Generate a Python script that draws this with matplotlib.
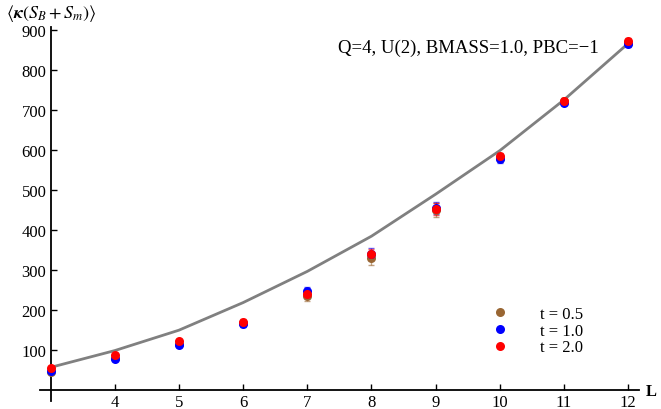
import numpy as np
import matplotlib
matplotlib.use("Agg")
import matplotlib.pyplot as plt

plt.rcParams['font.family'] = ['Liberation Serif', 'DejaVu Serif']
plt.rcParams['mathtext.fontset'] = 'stix'

# данные
L = [3, 4, 5, 6, 7, 8, 9, 10, 11, 12]
t05 = [45, 80, 115, 167, 234, 330, 450, 580, 722, 868]
t05_err = [5, 5, 5, 6, 12, 18, 18, 10, 8, 8]
t10 = [48, 76, 113, 164, 246, 340, 455, 576, 718, 864]
t10_err = [4, 4, 5, 6, 10, 15, 15, 8, 7, 6]
t20 = [55, 86, 121, 170, 239, 339, 452, 585, 723, 873]
t20_err = [4, 4, 5, 6, 8, 13, 15, 8, 7, 6]
curve = [56, 98, 149, 218, 296, 384, 489, 598, 725, 866]

series = [("t = 0.5", t05, t05_err, (0.6, 0.4, 0.2)),
          ("t = 1.0", t10, t10_err, (0.0, 0.0, 1.0)),
          ("t = 2.0", t20, t20_err, (1.0, 0.0, 0.0))]

fig = plt.figure(figsize=(6.61, 4.10), dpi=100)
ax = fig.add_axes([40 / 661, 8 / 410, 599 / 661, 374 / 410])

ax.plot(L, curve, color=(0.5, 0.5, 0.5), lw=2, zorder=1)

handles = []
for lab, vals, err, col in series:
    ax.errorbar(L, vals, yerr=err, fmt='none', ecolor=col, elinewidth=1,
                capsize=2.5, capthick=1, alpha=0.6, zorder=2)
    h, = ax.plot(L, vals, 'o', color=col, ms=6.5, mec='none', zorder=3, label=lab)
    handles.append(h)

ax.set_xlim(2.836, 12.168)
ax.set_ylim(-28, 907)

for s in ['top', 'right']:
    ax.spines[s].set_visible(False)
ax.spines['left'].set_position(('data', 3))
ax.spines['bottom'].set_position(('data', 0))
ax.spines['left'].set_linewidth(1.3)
ax.spines['bottom'].set_linewidth(1.3)

ax.set_xticks(range(4, 13))
ax.set_yticks(range(100, 1000, 100))
ax.tick_params(axis='x', direction='in', length=4, width=1, labelsize=12, pad=3)
ax.tick_params(axis='y', direction='in', length=4, width=1, labelsize=12, pad=3)

fig.text(338 / 661, 1 - 48 / 410, "Q=4, U(2), BMASS=1.0, PBC=\u22121", fontsize=13.5,
         va='center', ha='left')
fig.text(6 / 661, 1 - 14 / 410, r'$\langle\boldsymbol{\kappa}(\boldsymbol{S_B}+\boldsymbol{S_m})\rangle$',
         fontsize=13, va='center', ha='left')
fig.text(646 / 661, 1 - 392 / 410, 'L', fontsize=12, fontweight='bold', va='center', ha='left')

leg = ax.legend(handles=handles, loc='upper left', bbox_to_anchor=(445 / 599, 1 - (280 - 8) / 374),
                frameon=False, fontsize=12, handletextpad=1.9, labelspacing=0.05,
                borderaxespad=0, handlelength=1.0)

fig.savefig("out.png", dpi=100)
